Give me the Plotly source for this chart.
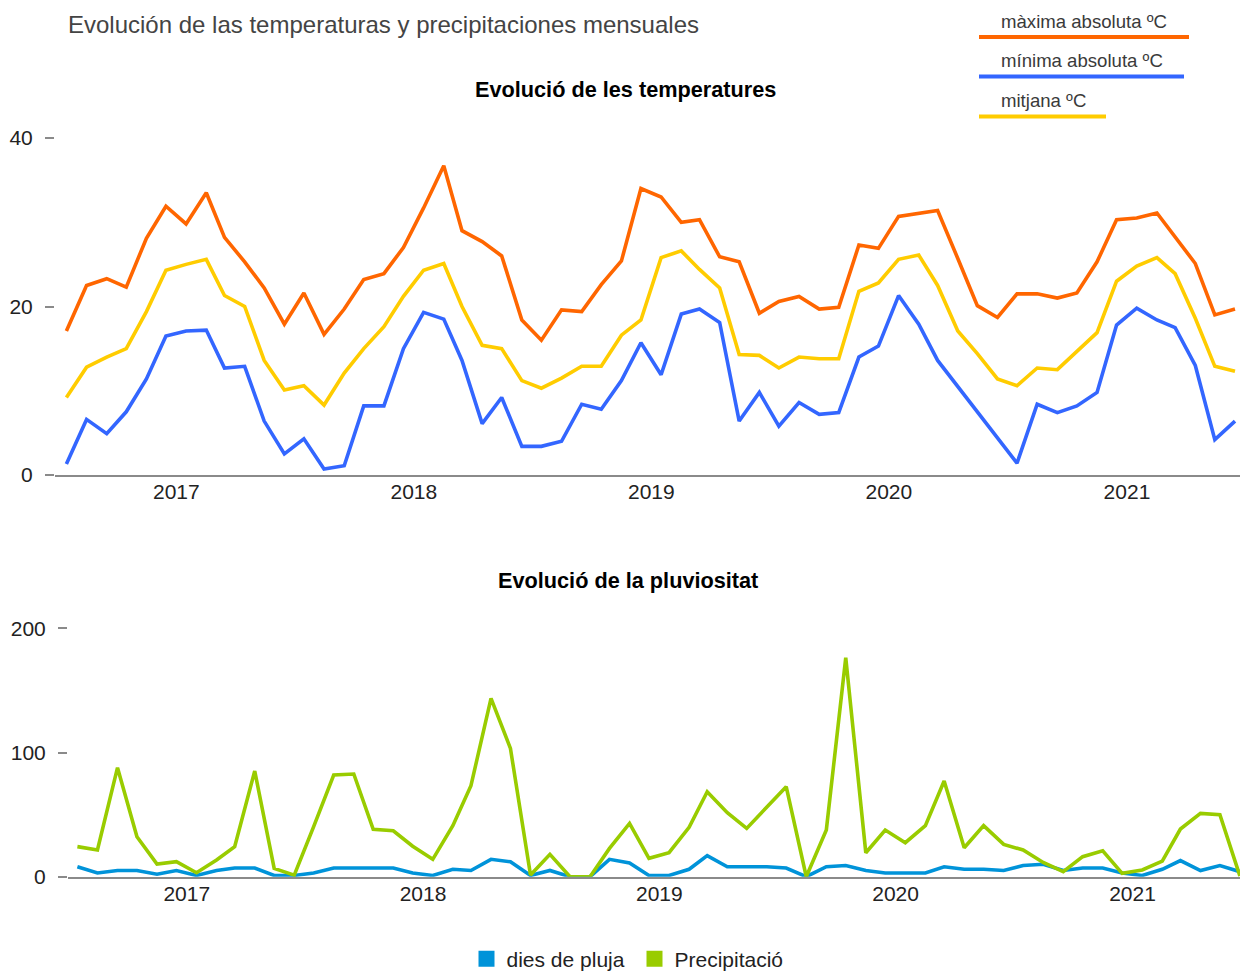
import plotly.graph_objects as go

W, H = 1248, 972
OFF = 8  # page body margin offset of the rendered figure

# ---------------- data ----------------
years = [2016, 2017, 2018, 2019, 2020, 2021]
months = [f"{y}-{m:02d}-16" for y in years for m in range(1, 13)]
dates = months[6:66]  # Jul 2016 .. Jun 2021 (60 months)

maxima = [17.1, 22.5, 23.3, 22.3, 28.1, 31.9, 29.8, 33.5, 28.2, 25.3, 22.2, 17.9,
          21.6, 16.7, 19.7, 23.2, 23.9, 27.0, 31.7, 36.7, 29.0, 27.7, 26.0, 18.4,
          16.0, 19.6, 19.4, 22.6, 25.4, 34.0, 33.0, 30.0, 30.3, 25.9, 25.3, 19.2,
          20.6, 21.2, 19.7, 19.9, 27.3, 26.9, 30.7, 31.1, 31.4, 25.7, 20.1, 18.7,
          21.5, 21.5, 21.0, 21.6, 25.3, 30.3, 30.5, 31.1, 28.3, 25.1, 19.0, 19.7]

minima = [1.3, 6.6, 4.9, 7.5, 11.4, 16.5, 17.1, 17.2, 12.7, 12.9, 6.4, 2.5,
          4.3, 0.7, 1.1, 8.2, 8.2, 15.0, 19.3, 18.5, 13.6, 6.1, 9.2, 3.4,
          3.4, 4.0, 8.4, 7.8, 11.2, 15.7, 11.9, 19.1, 19.7, 18.1, 6.4, 9.8,
          5.8, 8.6, 7.2, 7.4, 14.0, 15.3, 21.3, 17.9, 13.6, 10.5, 7.4, 4.3,
          1.4, 8.4, 7.4, 8.2, 9.8, 17.8, 19.8, 18.4, 17.5, 13.0, 4.2, 6.4]

mitjana = [9.2, 12.8, 14.0, 15.0, 19.4, 24.3, 25.0, 25.6, 21.3, 20.0, 13.6, 10.1,
           10.6, 8.3, 12.1, 15.0, 17.6, 21.2, 24.3, 25.1, 20.0, 15.4, 15.0, 11.2,
           10.3, 11.5, 12.9, 12.9, 16.6, 18.4, 25.8, 26.6, 24.4, 22.2, 14.3, 14.2,
           12.7, 14.0, 13.8, 13.8, 21.8, 22.8, 25.6, 26.1, 22.5, 17.1, 14.4, 11.4,
           10.6, 12.7, 12.5, 14.6, 16.9, 23.0, 24.8, 25.8, 23.9, 18.6, 12.9, 12.3]

precipitacio = [24.2, 21.5, 87.8, 32.2, 10.2, 12.1, 3.2, 13.4, 24.2, 85.1, 6.7, 1.3,
                40.3, 81.9, 82.7, 38.1, 37.0, 24.5, 14.0, 41.1, 73.3, 143.6, 103.3, 1.3,
                18.0, 0.0, 0.0, 22.8, 42.9, 14.8, 19.3, 39.7, 68.4, 51.5, 38.9, 55.8,
                72.5, 0.0, 37.6, 176.3, 19.3, 37.6, 27.4, 41.1, 77.0, 23.3, 41.1, 26.0,
                21.5, 11.5, 4.0, 16.1, 20.9, 2.7, 5.4, 12.6, 38.4, 51.0, 49.9, 0.5]

dies_pluja = [8, 3, 5, 5, 2, 5, 1, 5, 7, 7, 1, 1,
              3, 7, 7, 7, 7, 3, 1, 6, 5, 14, 12, 1,
              5, 0, 0, 14, 11, 1, 1, 6, 17, 8, 8, 8,
              7, 0, 8, 9, 5, 3, 3, 3, 8, 6, 6, 5,
              9, 10, 5, 7, 7, 3, 1, 6, 13, 5, 9, 4]

temp_names = ["màxima absoluta ºC", "mínima absoluta ºC", "mitjana ºC"]
temp_series = [maxima, minima, mitjana]
temp_colors = ["#ff6600", "#3366ff", "#ffcc00"]

rain_names = ["dies de pluja", "Precipitació"]
rain_series = [dies_pluja, precipitacio]
rain_colors = ["#0093d9", "#99cc00"]

FONT = "Arial, 'Liberation Sans', sans-serif"

def py(p):
    """target screen pixel row -> paper y"""
    return 1 - (p - OFF) / H

def px(p):
    """target screen pixel column -> paper x"""
    return (p - OFF) / W

fig = go.Figure()

for name, ys, col in zip(temp_names, temp_series, temp_colors):
    fig.add_trace(go.Scatter(x=dates, y=ys, name=name, mode="lines",
                             line=dict(color=col, width=3.6),
                             xaxis="x", yaxis="y", showlegend=False,
                             cliponaxis=False))

for name, ys, col in zip(rain_names, rain_series, rain_colors):
    fig.add_trace(go.Scatter(x=dates, y=ys, name=name, mode="lines",
                             line=dict(color=col, width=3.6),
                             xaxis="x2", yaxis="y2", showlegend=False,
                             cliponaxis=False))
    # legend entry with square swatch
    fig.add_trace(go.Scatter(x=[None], y=[None], name=name, mode="markers",
                             marker=dict(symbol="square", size=16, color=col),
                             xaxis="x2", yaxis="y2", showlegend=True))

axis_common = dict(showgrid=False, zeroline=False, layer="below traces",
                   automargin=False,
                   tickfont=dict(family=FONT, size=21, color="#222"))

fig.update_layout(
    width=W, height=H,
    margin=dict(l=0, r=0, t=0, b=0, pad=0, autoexpand=False),
    paper_bgcolor="white", plot_bgcolor="white",
    font=dict(family=FONT, color="#222"),
    xaxis=dict(domain=[px(55), px(1248)], anchor="y", type="date",
               range=["2016-06-28 12:00", "2021-07-06"],
               dtick="M12", tick0="2017-01-01", tickformat="%Y",
               showline=True, linecolor="#8a8a8a", linewidth=2,
               ticks="", ticklabelstandoff=-3, **axis_common),
    yaxis=dict(domain=[py(475), py(138)], anchor="x", range=[0, 40],
               tickvals=[0, 20, 40], showline=False,
               ticks="outside", ticklen=9, tickcolor="#8a8a8a", tickwidth=2,
               ticklabelstandoff=8, **axis_common),
    xaxis2=dict(domain=[px(68), px(1248)], anchor="y2", type="date",
                range=["2016-07-01 12:00", "2021-06-28 10:00"],
                dtick="M12", tick0="2017-01-01", tickformat="%Y",
                showline=True, linecolor="#8a8a8a", linewidth=2,
                ticks="", ticklabelstandoff=-3, **axis_common),
    yaxis2=dict(domain=[py(876.7), py(628.3)], anchor="x2", range=[0, 200],
                tickvals=[0, 100, 200], showline=False,
                ticks="outside", ticklen=9, tickcolor="#8a8a8a", tickwidth=2,
                ticklabelstandoff=8, **axis_common),
    legend=dict(orientation="h", x=0.5 + 2.5 / W, xanchor="center",
                y=py(959), yanchor="middle", entrywidth=123,
                font=dict(family=FONT, size=21, color="#222"),
                itemclick=False, itemdoubleclick=False),
)

annotations = [
    dict(text="Evolución de las temperaturas y precipitaciones mensuales",
         x=px(66), y=py(24), xref="paper", yref="paper", xanchor="left",
         yanchor="middle", showarrow=False,
         font=dict(family=FONT, size=24, color="#444444")),
    dict(text="<b>Evolució de les temperatures</b>", x=px(625), y=py(89),
         xref="paper", yref="paper", xanchor="center", yanchor="middle",
         showarrow=False, font=dict(family=FONT, size=21.7, color="#000")),
    dict(text="<b>Evolució de la pluviositat</b>", x=px(628), y=py(580),
         xref="paper", yref="paper", xanchor="center", yanchor="middle",
         showarrow=False, font=dict(family=FONT, size=21.7, color="#000")),
]

# custom top legend: text above a coloured underline
leg_text_y = [21, 61, 100]
leg_line_y = [37, 76.5, 116.5]
leg_line_x1 = [1189, 1184, 1106]
shapes = []
for name, col, ty, ly, x1 in zip(temp_names, temp_colors, leg_text_y, leg_line_y, leg_line_x1):
    annotations.append(dict(text=name, x=px(999), y=py(ty), xref="paper", yref="paper",
                            xanchor="left", yanchor="middle", showarrow=False,
                            font=dict(family=FONT, size=18.6, color="#3a3a3a")))
    shapes.append(dict(type="line", xref="paper", yref="paper",
                       x0=px(979), x1=px(x1), y0=py(ly), y1=py(ly),
                       line=dict(color=col, width=4)))

fig.update_layout(annotations=annotations, shapes=shapes)

fig.write_html("out.html")
